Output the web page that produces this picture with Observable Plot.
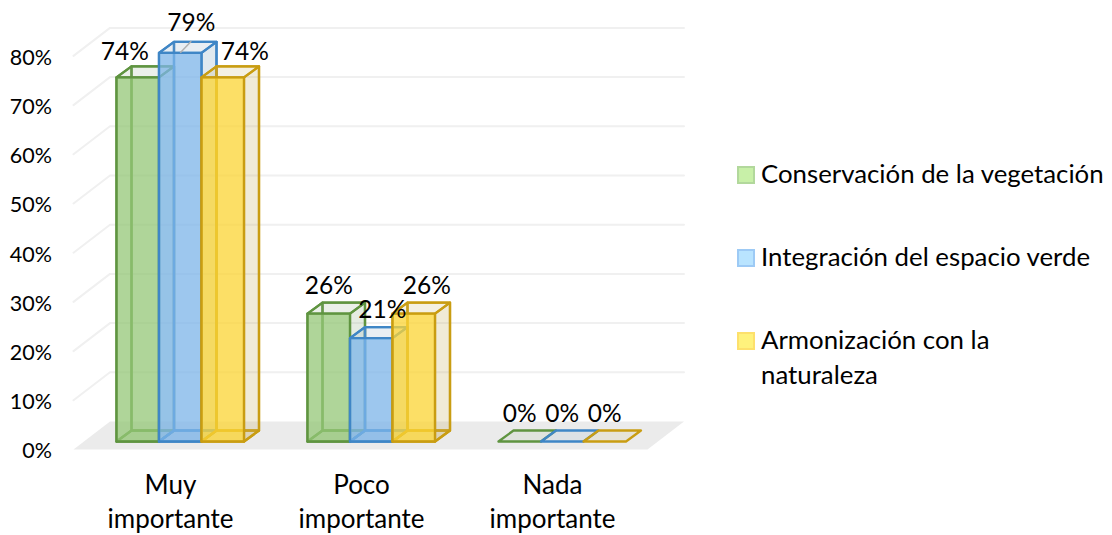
<!DOCTYPE html>
<html><head><meta charset="utf-8">
<script src="https://cdn.jsdelivr.net/npm/d3@7"></script>
<script src="https://cdn.jsdelivr.net/npm/@observablehq/plot@0.6"></script>
<style>
html,body{margin:0;padding:0;background:#fff;}
#wrap{position:relative;width:1112px;height:535px;overflow:hidden;font-family:Lato,sans-serif;color:#000;}
#chart{position:absolute;left:0;top:0;}
.li{position:absolute;left:737px;display:flex;align-items:flex-start;font-size:25.8px;line-height:35px;}
.sw{width:14px;height:14px;border:2px solid;margin:10px 6px 0 0;flex:none;}
</style></head><body>
<div id="wrap"><div id="chart"></div></div>
<script>
// data
const categories = ["Muy\nimportante", "Poco\nimportante", "Nada\nimportante"];
const seriesNames = ["Conservación de la vegetación", "Integración del espacio verde", "Armonización con la\nnaturaleza"];
const conservacion = [74, 26, 0];
const integracion = [79, 21, 0];
const armonizacion = [74, 26, 0];
const seriesValues = [conservacion, integracion, armonizacion];
const yTicks = [0, 10, 20, 30, 40, 50, 60, 70, 80];

// styles
const strokes = ["#5f9440", "#3f86c6", "#c99d12"];
const fronts = ["rgb(150,200,120)", "rgb(126,182,234)", "rgb(252,214,54)"];
const shades = ["#9db792", "#8aa9c2", "#c9b26a"];
const swatchFill = ["#c8f0a8", "#b9e4ff", "#fff27c"];
const swatchEdge = ["#b2d89c", "#9dcaf5", "#fde06c"];

// layout (scale units: x = one category step, y = one percent)
const pxX = 191, pxY = 4.92;
const barW = 42.5 / pxX, depthX = 15 / pxX, depthY = 11 / pxY;
const floorFront = -8 / pxY, floorDX = 36.5 / pxX, floorDY = 28 / pxY;
const xLeft = -43 / pxX, xRight = 531 / pxX;
const labelNudge = [
  [[-13, -25], [0, -27], [0, -27]],
  [[11, -30], [11, -28], [0, -27]],
  [[22, -25], [13, -27], [0, -27]]
];

const bars = seriesValues.flatMap((vals, s) => vals.map((v, c) => ({
  s, c, v, x0: c + s * barW, x1: c + (s + 1) * barW
})));
const poly = (pts) => pts.concat([pts[0]]).map(([x, y]) => ({x, y}));
const face = (pts, fill, fillOpacity, stroke) =>
  Plot.line(poly(pts), {x: "x", y: "y", fill, fillOpacity, stroke, strokeWidth: 2.3, strokeLinejoin: "round"});

const marks = [];
// floor
marks.push(Plot.line(poly([[xLeft, floorFront], [xRight, floorFront], [xRight + floorDX, floorFront + floorDY], [xLeft + floorDX, floorFront + floorDY]]),
  {x: "x", y: "y", fill: "#ebebeb", stroke: "none"}));
// walls gridlines
for (const t of yTicks.slice(1)) {
  marks.push(Plot.line([
    {x: xLeft, y: t + floorFront},
    {x: xLeft + floorDX, y: t + floorFront + floorDY},
    {x: xRight + floorDX, y: t + floorFront + floorDY}
  ], {x: "x", y: "y", stroke: "#f0f0f0", strokeWidth: 2}));
}
// bars, back to front
for (const b of bars) {
  const {x0, x1, v, s} = b, st = strokes[s], dx = depthX, dy = depthY;
  if (v > 0) {
    marks.push(face([[x0, 0], [x1, 0], [x1 + dx, dy], [x0 + dx, dy]], shades[s], 0.22, st)); // bottom
    marks.push(face([[x0 + dx, dy], [x1 + dx, dy], [x1 + dx, v + dy], [x0 + dx, v + dy]], shades[s], 0.05, st)); // back
    marks.push(face([[x0, 0], [x0 + dx, dy], [x0 + dx, v + dy], [x0, v]], shades[s], 0.05, st)); // left
    marks.push(face([[x1, 0], [x1 + dx, dy], [x1 + dx, v + dy], [x1, v]], shades[s], 0.22, st)); // right
  }
  marks.push(face([[x0, v], [x1, v], [x1 + dx, v + dy], [x0 + dx, v + dy]], shades[s], 0.15, st)); // top
  if (v > 0) marks.push(face([[x0, 0], [x1, 0], [x1, v], [x0, v]], fronts[s], 0.75, st)); // front
}
// leader line
const lead = bars.find(b => b.s === 1 && b.c === 0);
marks.push(Plot.link([lead], {
  x1: b => (b.x0 + b.x1) / 2, y1: b => b.v,
  x2: b => (b.x0 + b.x1) / 2 + 11 / pxX, y2: b => b.v + 11.5 / pxY,
  stroke: "#b0b0b0", strokeWidth: 1.5
}));
// value labels
marks.push(Plot.text(bars, {
  x: b => (b.x0 + b.x1) / 2 + labelNudge[b.s][b.c][0] / pxX,
  y: b => b.v - labelNudge[b.s][b.c][1] / pxY,
  text: b => b.v + "%",
  fontSize: 24.5, fill: "#000", textAnchor: "middle", lineAnchor: "middle"
}));
// axes
marks.push(Plot.axisY({ticks: yTicks, tickFormat: d => d + "%", tickSize: 0, tickPadding: 21.5, fontSize: 21.5, dy: 10, color: "#000"}));
marks.push(Plot.axisX({
  ticks: [0, 1, 2].map(c => c + 54 / pxX),
  tickFormat: d => categories[Math.round(d - 54 / pxX)],
  tickSize: 0, tickPadding: 20, fontSize: 26, lineHeight: 34.5 / 26, color: "#000"
}));

const W = 700, H = 535, mL = 73, mB = 86;
const chart = Plot.plot({
  width: W, height: H,
  marginLeft: mL, marginRight: 0, marginTop: 0, marginBottom: mB,
  style: {fontFamily: "Lato, sans-serif", background: "transparent", overflow: "visible"},
  x: {type: "linear", domain: [xLeft, xLeft + (W - mL) / pxX], label: null},
  y: {type: "linear", domain: [floorFront, floorFront + (H - mB) / pxY], label: null},
  marks
});
document.getElementById("chart").appendChild(chart);

// legend
const tops = [156, 239, 322];
seriesNames.forEach((n, i) => {
  const li = document.createElement("div");
  li.className = "li"; li.style.top = tops[i] + "px";
  const sw = document.createElement("div");
  sw.className = "sw"; sw.style.background = swatchFill[i]; sw.style.borderColor = swatchEdge[i];
  const tx = document.createElement("div");
  tx.style.whiteSpace = "pre-line"; tx.textContent = n;
  li.append(sw, tx);
  document.getElementById("wrap").appendChild(li);
});
</script>
</body></html>
